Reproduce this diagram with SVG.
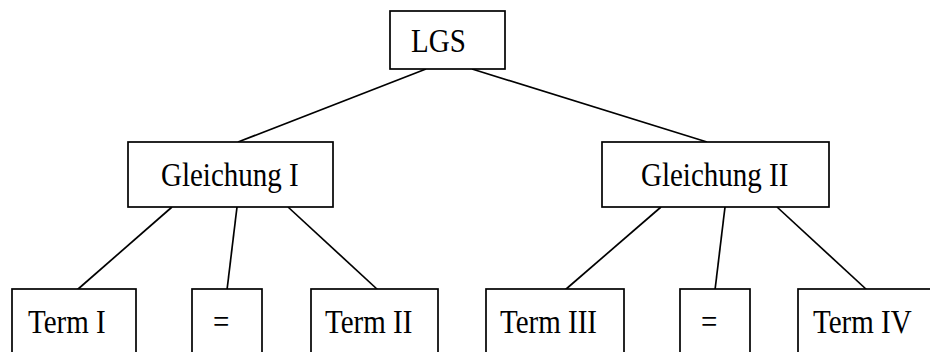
<svg xmlns="http://www.w3.org/2000/svg" width="930" height="352" viewBox="0 0 930 352">
<style>
rect{fill:#fff;stroke:#000;stroke-width:1.7}
line{stroke:#000;stroke-width:1.7}
text{font-family:"Liberation Serif","Times New Roman",serif;font-size:29px;fill:#000}
</style>
<rect x="0" y="0" width="930" height="352" style="stroke:none"/>
<g id="connectors">
<line x1="426" y1="69" x2="238" y2="142"/>
<line x1="472" y1="69" x2="707" y2="142"/>
<line x1="172" y1="207" x2="77" y2="290"/>
<line x1="237" y1="207" x2="227" y2="290"/>
<line x1="288" y1="207" x2="378" y2="290"/>
<line x1="661" y1="207" x2="565" y2="290"/>
<line x1="725" y1="207" x2="715" y2="290"/>
<line x1="777" y1="207" x2="867" y2="290"/>
</g>
<g id="lgs"><rect x="390" y="11" width="115" height="58"/><text transform="translate(411,52) scale(1,1.13)">LGS</text></g>
<g id="gl1"><rect x="128" y="142" width="205" height="65"/><text transform="translate(161,186) scale(1,1.13)">Gleichung I</text></g>
<g id="gl2"><rect x="602" y="142" width="227" height="65"/><text transform="translate(641,186) scale(1,1.13)">Gleichung II</text></g>
<g id="t1"><rect x="12" y="289" width="124" height="80"/><text transform="translate(28,333) scale(1,1.13)">Term I</text></g>
<g id="eq1"><rect x="192" y="289" width="70" height="80"/><text transform="translate(213,333) scale(1,1.13)">=</text></g>
<g id="t2"><rect x="311" y="289" width="127" height="80"/><text transform="translate(325,333) scale(1,1.13)">Term II</text></g>
<g id="t3"><rect x="486" y="289" width="138" height="80"/><text transform="translate(500,333) scale(1,1.13)">Term III</text></g>
<g id="eq2"><rect x="680" y="289" width="70" height="80"/><text transform="translate(701,333) scale(1,1.13)">=</text></g>
<g id="t4"><rect x="798" y="289" width="150" height="80"/><text transform="translate(813,333) scale(1,1.13)">Term IV</text></g>
</svg>
